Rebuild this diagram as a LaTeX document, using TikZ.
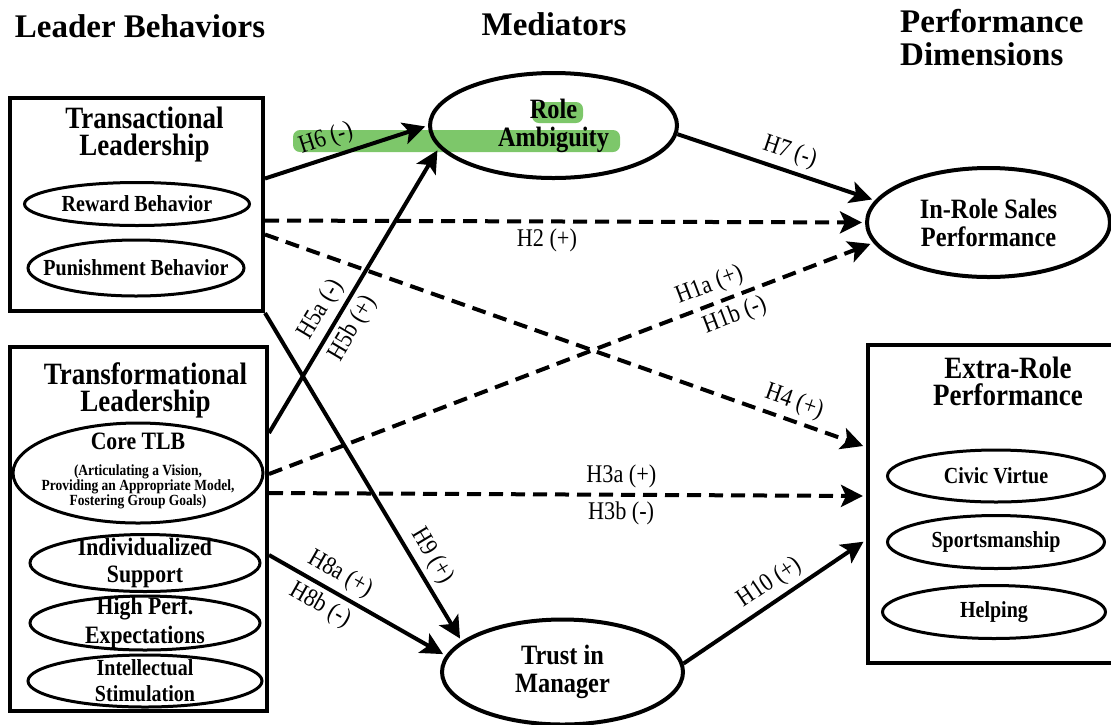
\documentclass[tikz,border=0pt]{standalone}
\usepackage{fontspec}
\setmainfont{Liberation Serif}
\newfontfamily\tallfont{Liberation Serif}[FakeStretch=0.87]
\usepackage{tikz}
\usetikzlibrary{shapes.geometric, arrows.meta, positioning, backgrounds}

\definecolor{hlgreen}{RGB}{125,199,106}

\begin{document}
\begin{tikzpicture}[
    x=1pt, y=-1pt,
    >={Stealth[length=22pt, width=22pt, inset=5pt]},
    colhead/.style={font=\fontsize{33}{33}\selectfont\bfseries, align=left, inner sep=0pt},
    grpbox/.style={draw, line width=4pt, inner sep=0pt},
    grptitle/.style={font=\tallfont\fontsize{31}{27}\selectfont\bfseries, align=center},
    subell/.style={ellipse, draw, line width=3pt, align=center, inner xsep=-30pt, inner ysep=-8pt, font=\tallfont\fontsize{24}{27}\selectfont\bfseries},
    medell/.style={ellipse, draw, line width=4pt, align=center, inner sep=0pt, font=\tallfont\fontsize{28}{28}\selectfont\bfseries},
    hlbox/.style={fill=hlgreen, rounded corners=7pt, inner sep=0pt},
    hyp/.style={->, line width=4pt, shorten >=3pt},
    hypdash/.style={hyp, dash pattern=on 14pt off 8pt},
    hlabel/.style={sloped, font=\tallfont\fontsize{25.5}{26}\selectfont, inner sep=5pt},
]
\useasboundingbox (0,0) rectangle (1111,724);

% === Column headings ===
\node[colhead, anchor=base] (hleader) at (140,37) {Leader Behaviors};
\node[colhead, anchor=base] (hmed) at (554,35) {Mediators};
\node[colhead, anchor=north west] (hperf) at (900,9) {Performance\\Dimensions};

% === Transactional leadership ===
\node[grpbox, minimum width=253, minimum height=213] (trans) at (136.5,204.5) {};
\node[grptitle, below=7pt of trans.north, xshift=8pt] (transt) {Transactional\\Leadership};
\node[subell, font=\tallfont\fontsize{23}{24}\selectfont\bfseries, minimum width=225, minimum height=43] (reward) at (137,204) {Reward Behavior};
\node[subell, font=\tallfont\fontsize{23}{24}\selectfont\bfseries, minimum width=216, minimum height=56] (punish) at (136,268) {Punishment Behavior};

% === Transformational leadership ===
\node[grpbox, minimum width=257, minimum height=364] (transf) at (138.5,529) {};
\node[grptitle, below=14pt of transf.north, xshift=7pt] (transft) {Transformational\\Leadership};
\node[subell, minimum width=250, minimum height=100] (core) at (138,473) {};
\node[font=\tallfont\fontsize{25}{24}\selectfont\bfseries] (coret) at (138,441) {Core TLB};
\node[font=\tallfont\fontsize{15.5}{13.5}\selectfont\bfseries, align=center, inner sep=0pt] (corenote) at (138,487)
    {(Articulating a Vision,\\Providing an Appropriate Model,\\Fostering Group Goals)};
\node[subell, font=\tallfont\fontsize{25}{27}\selectfont\bfseries, minimum width=230, minimum height=57] (indiv) at (145,563) {Individualized\\Support};
\node[subell, font=\tallfont\fontsize{25}{29}\selectfont\bfseries, minimum width=230, minimum height=54] (highperf) at (145,623) {High Perf.\\Expectations};
\node[subell, font=\tallfont\fontsize{23}{26}\selectfont\bfseries, minimum width=234, minimum height=52] (intel) at (145,681) {Intellectual\\Stimulation};

% === Extra-role performance ===
\node[grpbox, minimum width=250, minimum height=318] (extra) at (993,504) {};
\node[grptitle, below=10pt of extra.north, xshift=15pt] (extrat) {Extra-Role\\Performance};
\node[subell, font=\tallfont\fontsize{23}{24}\selectfont\bfseries, minimum width=217, minimum height=52] (civic) at (996,476) {Civic Virtue};
\node[subell, font=\tallfont\fontsize{23}{24}\selectfont\bfseries, minimum width=217, minimum height=53] (sports) at (996,542) {Sportsmanship};
\node[subell, font=\tallfont\fontsize{23}{24}\selectfont\bfseries, minimum width=223, minimum height=53] (helping) at (994,612) {Helping};

% === Mediators and in-role outcome ===
\node[medell, minimum width=247, minimum height=105] (role) at (553.5,125.5) {Role\\Ambiguity};
\node[medell, minimum width=243, minimum height=109] (inrole) at (988.5,222.5) {In-Role Sales\\Performance};
\node[medell, minimum width=241, minimum height=105] (trust) at (562.5,672) {Trust in\\Manager};

% highlight behind role ambiguity
\begin{scope}[on background layer]
\node[hlbox, minimum width=51, minimum height=21] (hlrole) at (557.5,112.5) {};
\node[hlbox, minimum width=327, minimum height=22] (hlband) at (456.5,141) {};
\end{scope}

% === Hypothesised paths (solid) ===
\draw[hyp] ([yshift=26pt]trans.east) -- (role.west) node[hlabel, above, pos=0.41] {H6 (-)};
\draw[hyp] ([yshift=96pt]transf.east) -- (role.191)
    node[hlabel, above, pos=0.4] {H5a (-)} node[hlabel, below, pos=0.4] {H5b (+)};
\draw[hyp] (trans.south east) -- (trust.163) node[hlabel, above, pos=0.77] {H9 (+)};
\draw[hyp] ([yshift=-26pt]transf.east) -- (trust.172)
    node[hlabel, above, pos=0.35] {H8a (+)} node[hlabel, below, pos=0.34] {H8b (-)};
\draw[hyp] (trust.4) -- ([yshift=-36pt]extra.west) node[hlabel, above, pos=0.53] {H10 (+)};
\draw[hyp] (role.-4) -- (inrole.169) node[hlabel, above, pos=0.54] {H7 (-)};

% === Direct paths (dashed) ===
\draw[hypdash] ([yshift=-16pt]trans.east) -- (inrole.west) node[hlabel, below, pos=0.47] {H2 (+)};
\draw[hypdash] ([yshift=-30pt]trans.east) -- ([yshift=57pt]extra.west) node[hlabel, above, pos=0.87] {H4 (+)};
\draw[hypdash] ([yshift=55pt]transf.east) -- (inrole.190)
    node[hlabel, above, pos=0.74] {H1a (+)} node[hlabel, below, pos=0.76] {H1b (-)};
\draw[hypdash] ([yshift=36pt]transf.east) -- ([yshift=8pt]extra.west)
    node[hlabel, above, pos=0.59] {H3a (+)} node[hlabel, below, pos=0.59] {H3b (-)};

\end{tikzpicture}
\end{document}
